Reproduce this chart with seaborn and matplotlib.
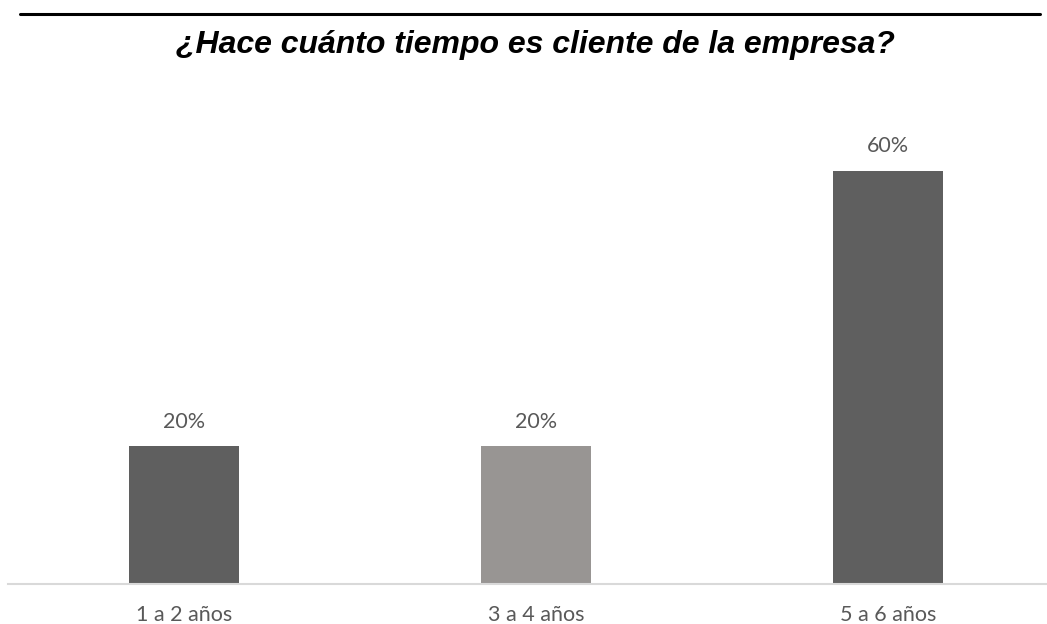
import matplotlib
matplotlib.use("Agg")
import matplotlib.pyplot as plt
import seaborn as sns
import pandas as pd

categories = ["1 a 2 años", "3 a 4 años", "5 a 6 años"]
values = [0.20, 0.20, 0.60]
bar_colors = ["#5f5f5f", "#989593", "#5f5f5f"]
title = "¿Hace cuánto tiempo es cliente de la empresa?"

df = pd.DataFrame({"periodo": categories, "porcentaje": values})

sns.set_theme(style="white")
plt.rcParams["font.family"] = ["Lato", "DejaVu Sans"]

W, H = 1047, 624
fig = plt.figure(figsize=(W / 100, H / 100), dpi=100)
ax = fig.add_axes([8 / W, (H - 584) / H, (W - 8) / W, (584 - 102) / H])

sns.barplot(data=df, x="periodo", y="porcentaje", hue="periodo",
            palette=bar_colors, width=0.3125, legend=False, ax=ax,
            saturation=1, linewidth=0)

ax.set_xlim(-0.5, -0.5 + (W - 8) / 352)
ax.set_ylim(0, 0.70)
ax.set_xlabel("")
ax.set_ylabel("")
ax.set_yticks([])
ax.tick_params(axis="x", length=0, pad=15, labelsize=15.5, labelcolor="#595959")
for side in ["top", "left", "right"]:
    ax.spines[side].set_visible(False)
ax.spines["bottom"].set_color("#d9d9d9")
ax.spines["bottom"].set_linewidth(1.5)

for i, v in enumerate(values):
    ax.text(i, v + 0.021, f"{v:.0%}", ha="center", va="bottom",
            fontsize=15.5, color="#595959")

# heading rule and title
fig.add_artist(plt.Line2D([20 / W, 1040 / W], [1 - 14 / H, 1 - 14 / H],
                          color="black", linewidth=2.2))
fig.text(535 / W, 1 - 45 / H, title, ha="center", va="center",
         fontsize=23, fontweight="bold", fontstyle="italic",
         family=["Liberation Sans", "DejaVu Sans"], color="black")

fig.savefig("out.png", dpi=100)
